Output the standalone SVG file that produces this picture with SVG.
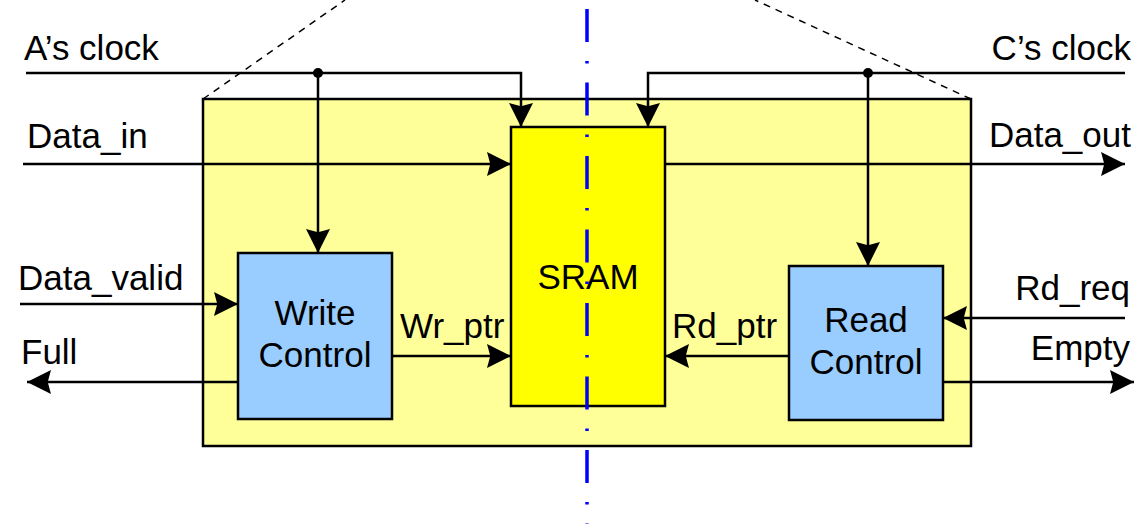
<svg xmlns="http://www.w3.org/2000/svg" width="1145" height="524" viewBox="0 0 1145 524">
<style>
text{font-family:"Liberation Sans",Arial,sans-serif;font-size:35px;fill:#000}
.w{stroke:#000;stroke-width:2.5;fill:none}
.box{stroke:#000;stroke-width:2.5}
</style>
<defs>
<marker id="ah" markerUnits="userSpaceOnUse" markerWidth="24" markerHeight="24" viewBox="0 0 22 22" refX="22" refY="11" orient="auto">
<path d="M0,0 L22,11 L0,22 L3,11 z" fill="#000"/>
</marker>
</defs>
<rect width="1145" height="524" fill="#fff"/>
<g id="fifo">
<rect x="203" y="99" width="768" height="347" fill="#FFFF99" class="box"/>
</g>
<g id="dashed">
<path d="M203,99 L345,0 M971,99 L755,0" stroke="#000" stroke-width="1.5" stroke-dasharray="7 6" fill="none"/>
</g>
<g id="sram">
<rect x="511" y="127" width="154" height="279" fill="#FFFF00" class="box"/>
<text x="588" y="289" text-anchor="middle">SRAM</text>
</g>
<g id="write-control">
<rect x="238" y="253" width="154" height="166" fill="#99CCFF" class="box"/>
<text x="315" y="325" text-anchor="middle">Write</text>
<text x="315" y="367" text-anchor="middle">Control</text>
</g>
<g id="read-control">
<rect x="789" y="266" width="154" height="154" fill="#99CCFF" class="box"/>
<text x="866" y="332" text-anchor="middle">Read</text>
<text x="866" y="374" text-anchor="middle">Control</text>
</g>
<g id="connectors">
<path class="w" d="M26,73 L521,73 L521,127" marker-end="url(#ah)"/>
<path class="w" d="M318,73 L318,253" marker-end="url(#ah)"/>
<circle cx="318" cy="73" r="5" fill="#000"/>
<path class="w" d="M1125,73 L648,73 L648,127" marker-end="url(#ah)"/>
<path class="w" d="M868,73 L868,266" marker-end="url(#ah)"/>
<circle cx="868" cy="73" r="5" fill="#000"/>
<path class="w" d="M23,164 L511,164" marker-end="url(#ah)"/>
<path class="w" d="M665,164 L1125,164" marker-end="url(#ah)"/>
<path class="w" d="M20,304 L238,304" marker-end="url(#ah)"/>
<path class="w" d="M238,382 L27,382" marker-end="url(#ah)"/>
<path class="w" d="M392,356 L511,356" marker-end="url(#ah)"/>
<path class="w" d="M789,356 L665,356" marker-end="url(#ah)"/>
<path class="w" d="M1125,318 L943,318" marker-end="url(#ah)"/>
<path class="w" d="M943,382 L1134,382" marker-end="url(#ah)"/>
</g>
<g id="labels">
<text x="24" y="60">A’s clock</text>
<text x="1131" y="60" text-anchor="end">C’s clock</text>
<text x="27" y="148">Data_in</text>
<text x="1131" y="147" text-anchor="end">Data_out</text>
<text x="18" y="290">Data_valid</text>
<text x="21" y="364">Full</text>
<text x="1130" y="300" text-anchor="end">Rd_req</text>
<text x="1130" y="360" text-anchor="end">Empty</text>
<text x="400" y="338">Wr_ptr</text>
<text x="672" y="338">Rd_ptr</text>
</g>
<g id="clock-boundary">
<line x1="587" y1="9" x2="587" y2="524" stroke="#0000FF" stroke-width="3.5" stroke-dasharray="33 19 2.5 19"/>
</g>
</svg>
